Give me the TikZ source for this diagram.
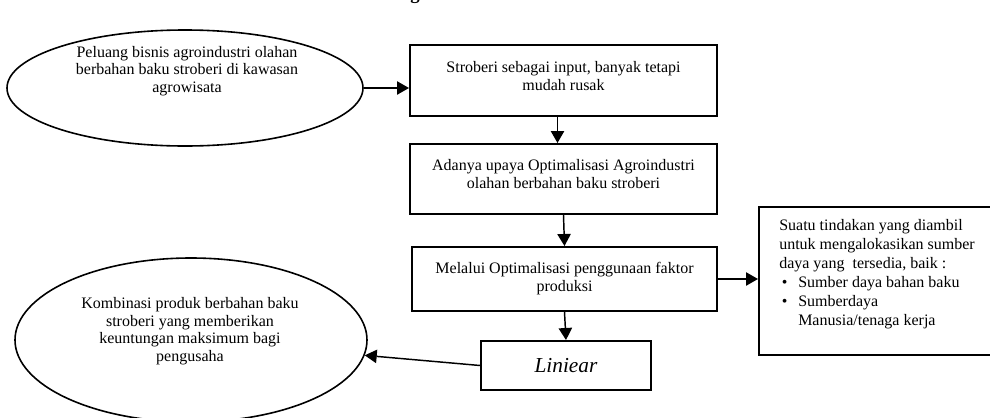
\documentclass[tikz,border=0pt]{standalone}
\usepackage{fontspec}
\setmainfont{Liberation Serif}
\usetikzlibrary{arrows.meta,shapes.geometric}

\begin{document}
\begin{tikzpicture}[x=0.75pt,y=-0.75pt,
    kotak/.style={draw,line width=1.5pt,minimum width=230.25pt,align=center,font=\fontsize{12}{13.5}\selectfont},
    bulat/.style={draw,ellipse,line width=1.2pt,inner sep=0pt},
    isi/.style={align=center,font=\fontsize{12}{13.2}\selectfont},
    panah/.style={-{Triangle[length=9pt,width=10pt]},line width=1.1pt}]
  \useasboundingbox (0,0) rectangle (990,418);
  \clip (0,0) rectangle (990,418);
  % judul (terpotong)
  \node[anchor=base,font=\fontsize{14}{16}\selectfont\bfseries] (judul) at (415,-1) {g};
  % elips
  \node[bulat,minimum width=267pt,minimum height=87pt] (peluang) at (185,88) {};
  \node[isi] (peluangteks) at (187,71) {Peluang bisnis agroindustri olahan\\berbahan baku stroberi di kawasan\\agrowisata};
  \node[bulat,minimum width=264pt,minimum height=123pt] (kombinasi) at (191,340) {};
  \node[isi] (kombinasiteks) at (190,331) {Kombinasi produk berbahan baku\\stroberi yang memberikan\\keuntungan maksimum bagi\\pengusaha};
  % kotak
  \node[kotak,minimum height=53.25pt] (stroberi) at (563.5,80.5) {Stroberi sebagai input, banyak tetapi\\mudah rusak\\[-6pt]};
  \node[kotak,minimum height=52.5pt] (upaya) at (563.5,179) {Adanya upaya Optimalisasi Agroindustri\\olahan berbahan baku stroberi\\[-6pt]};
  \node[kotak,minimum width=228.75pt,minimum height=48pt] (faktor) at (564.5,279) {Melalui Optimalisasi penggunaan faktor\\produksi};
  \node[kotak,minimum width=127.5pt,minimum height=36.75pt,font=\fontsize{16}{19}\selectfont\itshape] (liniear) at (566,365.5) {Liniear};
  \node[draw,line width=1.5pt,anchor=north west,minimum width=181.5pt,minimum height=111pt] (tindakan) at (758,206) {};
  \node[anchor=north west,inner sep=0pt,align=left,font=\fontsize{12}{14.25}\selectfont] (tindakanteks) at (779,219)
    {Suatu tindakan yang diambil\\
     untuk mengalokasikan sumber\\
     daya yang\ \ tersedia, baik :\\
     \makebox[14.25pt][l]{\hspace{2pt}\textbullet}Sumber daya bahan baku\\
     \makebox[14.25pt][l]{\hspace{2pt}\textbullet}Sumberdaya\\
     \hspace*{14.25pt}Manusia/tenaga kerja};
  % panah
  \draw[panah] (peluang.east) -- (peluang.east -| stroberi.west);
  \draw[panah] ([xshift=-4.5pt]stroberi.south) -- ([xshift=-4.5pt]upaya.north);
  \draw[panah] (upaya.south) -- (faktor.north);
  \draw[panah] (faktor.south) -- (liniear.north);
  \draw[panah] (faktor.east) -- (faktor.east -| tindakan.west);
  \draw[panah] (liniear.west) -- (kombinasi);
\end{tikzpicture}
\end{document}
